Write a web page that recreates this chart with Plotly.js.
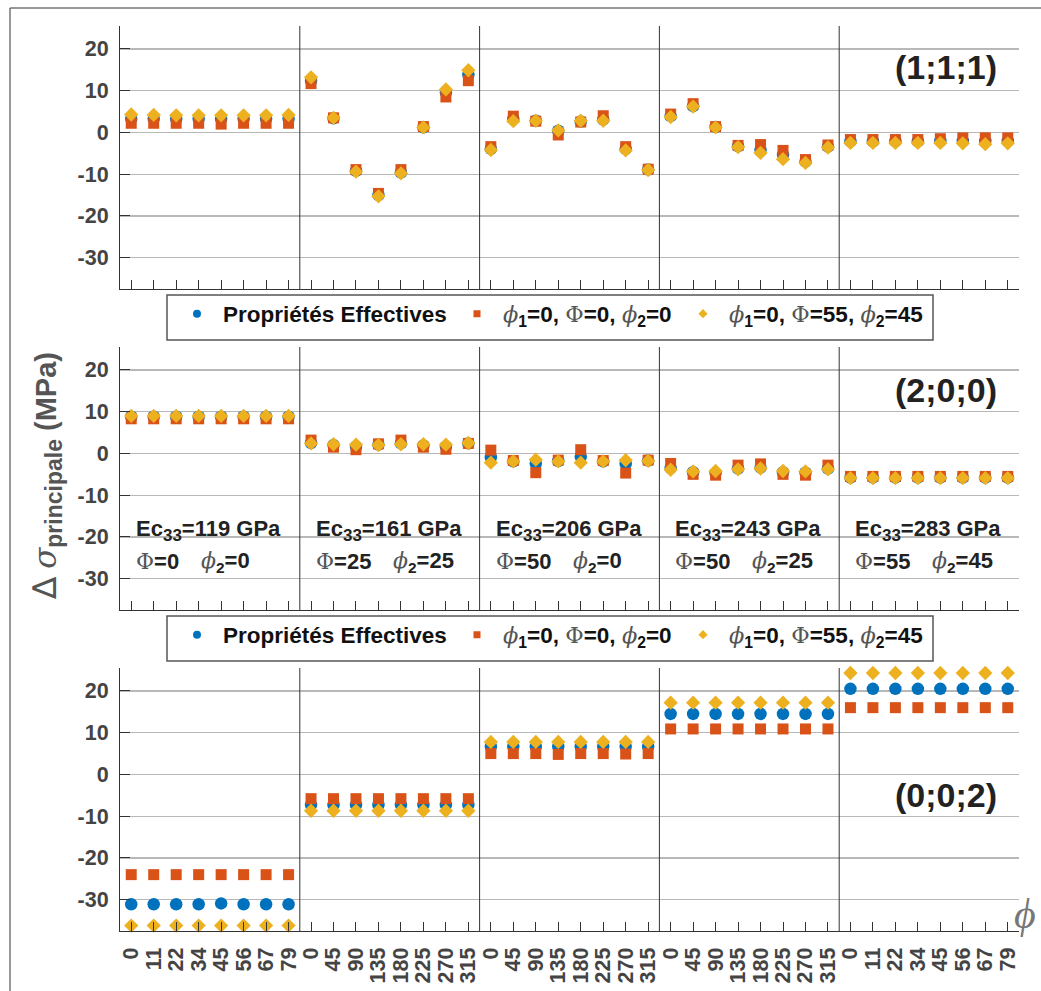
<!DOCTYPE html>
<html><head><meta charset="utf-8">
<script src="https://cdn.plot.ly/plotly-3.0.1.min.js"></script>
<style>body{margin:0;padding:0;background:#fff}</style>
</head><body><div id="chart" style="width:1041px;height:991px"></div>
<script>
// ---- positions & tick labels ----
const positions = [1,2,3,4,5,6,7,8,9,10,11,12,13,14,15,16,17,18,19,20,21,22,23,24,25,26,27,28,29,30,31,32,33,34,35,36,37,38,39,40];
const phiTicksA = ['0','11','22','34','45','56','67','79'];
const phiTicksB = ['0','45','90','135','180','225','270','315'];
const phiTickLabels = [...phiTicksA, ...phiTicksB, ...phiTicksB, ...phiTicksB, ...phiTicksA];
const yTickVals = [-30,-20,-10,0,10,20];
const yTickText = ['-30','-20','-10','0','10','20'];
const segmentBounds = [8.5, 16.5, 24.5, 32.5];
const segmentStarts = [0.5, 8.5, 16.5, 24.5, 32.5];

// ---- legend labels ----
const serifI = "font-family:'DejaVu Serif','Liberation Serif';font-style:italic;font-weight:normal;color:#555";
const serifN = "font-family:'DejaVu Serif','Liberation Serif';font-weight:normal;color:#555";
const seriesNames = [
  'Propriétés Effectives',
  `<span style="${serifI}">ϕ</span><sub>1</sub>=0, <span style="${serifN}">Φ</span>=0, <span style="${serifI}">ϕ</span><sub>2</sub>=0`,
  `<span style="${serifI}">ϕ</span><sub>1</sub>=0, <span style="${serifN}">Φ</span>=55, <span style="${serifI}">ϕ</span><sub>2</sub>=45`
];

// ---- panel (1;1;1) ----
const eff111 = [3.3,3.3,3.2,3.2,3.2,3.3,3.3,3.3, 12.3,3.4,-9.2,-15.0,-9.6,1.2,9.6,13.8, -3.9,3.3,2.8,0.4,2.6,3.1,-3.9,-8.9, 3.9,6.3,1.3,-3.3,-4.1,-5.3,-7.0,-3.4, -2.1,-2.1,-2.1,-2.1,-2.0,-2.0,-2.0,-2.0];
const red111 = [2.2,2.2,2.2,2.2,2.0,2.2,2.2,2.2, 11.7,3.5,-8.9,-14.6,-8.9,1.4,8.5,12.4, -3.4,3.9,2.7,-0.6,2.5,4.0,-3.4,-8.8, 4.4,6.9,1.4,-3.1,-2.9,-4.3,-6.5,-3.0, -1.7,-1.7,-1.7,-1.7,-1.5,-1.3,-1.3,-1.3];
const yel111 = [4.3,4.2,4.1,4.1,4.1,4.1,4.1,4.2, 13.2,3.5,-9.4,-15.3,-9.8,1.2,10.3,14.9, -4.2,2.7,2.8,0.5,2.8,2.8,-4.3,-9.0, 3.7,6.2,1.2,-3.5,-4.9,-6.4,-7.3,-3.6, -2.5,-2.5,-2.5,-2.5,-2.5,-2.6,-2.8,-2.6];

// ---- panel (2;0;0) ----
const eff200 = [8.8,8.8,8.8,8.8,8.8,8.8,8.8,8.8, 2.5,2.0,1.6,2.1,2.4,1.9,1.6,2.4, -0.9,-1.9,-2.4,-1.8,-0.8,-1.9,-2.5,-1.7, -3.5,-4.5,-4.7,-3.6,-3.4,-4.5,-4.6,-3.6, -5.8,-5.8,-5.8,-5.8,-5.8,-5.8,-5.8,-5.8];
const red200 = [8.3,8.3,8.3,8.3,8.3,8.3,8.3,8.3, 3.2,1.5,0.9,2.3,3.2,1.5,1.0,2.4, 0.8,-1.7,-4.6,-1.6,0.9,-1.7,-4.7,-1.6, -2.4,-5.0,-5.2,-2.8,-2.5,-5.0,-5.2,-2.8, -5.5,-5.5,-5.5,-5.5,-5.5,-5.5,-5.5,-5.5];
const yel200 = [9.0,9.0,9.0,9.0,9.0,9.0,9.0,9.0, 2.4,2.2,2.1,2.0,2.2,2.2,2.1,2.5, -2.2,-1.9,-1.5,-1.9,-2.2,-1.9,-1.6,-1.8, -3.9,-4.3,-4.2,-3.8,-3.6,-4.2,-4.3,-3.8, -5.9,-5.9,-5.9,-5.9,-5.9,-5.9,-5.9,-5.9];

// ---- panel (0;0;2) ----
const eff002 = [-31.1,-31.1,-31.1,-31.1,-30.9,-31.1,-31.1,-31.1, -7.3,-7.3,-7.3,-7.3,-7.3,-7.3,-7.3,-7.3, 6.7,6.7,6.7,6.7,6.7,6.7,6.7,6.7, 14.5,14.5,14.5,14.5,14.5,14.5,14.5,14.5, 20.5,20.5,20.5,20.5,20.5,20.5,20.5,20.5];
const red002 = [-24.0,-24.0,-24.0,-24.0,-24.0,-24.0,-24.0,-24.0, -5.8,-5.8,-5.8,-5.8,-5.8,-5.8,-5.8,-5.8, 5.0,5.0,5.0,4.8,5.0,5.0,4.9,5.0, 10.9,10.9,10.9,10.9,10.9,10.9,10.9,10.9, 16.0,16.0,16.0,16.0,16.0,16.0,16.0,16.0];
const yel002 = [-36.2,-36.2,-36.2,-36.2,-36.2,-36.2,-36.2,-36.2, -8.7,-8.7,-8.7,-8.7,-8.7,-8.7,-8.7,-8.7, 7.8,7.8,7.8,7.8,7.8,7.8,7.8,7.8, 17.2,17.2,17.2,17.2,17.2,17.2,17.2,17.2, 24.3,24.3,24.3,24.3,24.3,24.3,24.3,24.3];

// ---- panel & segment labels ----
const panelLabels = ['(1;1;1)', '(2;0;0)', '(0;0;2)'];
const ec33 = ['119','161','206','243','283'];
const bigPhi = ['0','25','50','50','55'];
const phi2 = ['0','25','0','25','45'];

// ---- styles ----
const C_BLUE = '#0072BD', C_RED = '#D95319', C_YEL = '#EDB120';
const FONT = "'Liberation Sans', Arial, Helvetica, sans-serif";
const W = 1041, H = 991;
const px = v => v / W, py = v => 1 - v / H;

const panels = [
  {eff: eff111, red: red111, yel: yel111, top: 26, bot: 289, label: 67},
  {eff: eff200, red: red200, yel: yel200, top: 347, bot: 610, label: 390},
  {eff: eff002, red: red002, yel: yel002, top: 668, bot: 931, label: 795}
];

const traces = [];
const layout = {
  width: W, height: H,
  margin: {l:0, r:0, t:0, b:0, pad:0},
  paper_bgcolor: '#fff', plot_bgcolor: 'rgba(0,0,0,0)',
  font: {family: FONT, size: 22, color: '#222', weight: 'bold'},
  showlegend: true,
  shapes: [], annotations: []
};

panels.forEach((p, i) => {
  const k = i === 0 ? '' : String(i + 1);
  const xa = 'x' + k, ya = 'y' + k;
  [[p.eff, C_BLUE, 'circle', 12.5], [p.red, C_RED, 'square', 11], [p.yel, C_YEL, 'diamond', 11]].forEach(([vals, col, sym, sz]) => {
    traces.push({type: 'scatter', mode: 'markers', x: positions, y: vals, xaxis: xa, yaxis: ya,
      marker: {color: col, symbol: sym, size: sz, line: {width: 0}}, showlegend: false, cliponaxis: false, hoverinfo: 'skip'});
  });
  layout['xaxis' + k] = {
    domain: [px(120), px(1019)], anchor: ya, range: [0.5, 40.5],
    showgrid: false, zeroline: false, showline: true, linecolor: '#333', linewidth: 1,
    ticks: 'inside', ticklen: 9, tickwidth: 1, tickcolor: '#333',
    tickmode: 'array', tickvals: positions, ticktext: phiTickLabels,
    showticklabels: i === 2, tickangle: -90, ticklabelstandoff: 7,
    tickfont: {family: FONT, size: 21.5, color: '#444', weight: 'bold'}
  };
  layout['yaxis' + k] = {
    domain: [py(p.bot), py(p.top)], anchor: xa, range: [-37.5, 25.5],
    showgrid: true, gridcolor: '#b8b8b8', gridwidth: 1.3, zeroline: false,
    showline: true, linecolor: '#333', linewidth: 1,
    ticks: 'inside', ticklen: 10, tickwidth: 1, tickcolor: '#333',
    tickmode: 'array', tickvals: yTickVals, ticktext: yTickText, ticklabelstandoff: 6,
    tickfont: {family: FONT, size: 21.5, color: '#444', weight: 'bold'}
  };
  segmentBounds.forEach(b => {
    layout.shapes.push({type: 'line', xref: xa, yref: ya + ' domain', x0: b, x1: b, y0: 0, y1: 1,
      line: {color: '#333', width: 1}});
  });
  layout.annotations.push({xref: 'paper', yref: 'paper', x: px(946), y: py(p.label),
    text: panelLabels[i], showarrow: false, xanchor: 'center', yanchor: 'middle',
    font: {family: FONT, size: 34, color: '#222', weight: 'bold'}});
});

// segment labels in panel 2
segmentStarts.forEach((s, j) => {
  layout.annotations.push({xref: 'x2', yref: 'y2', x: s, y: -18.5, xshift: 14, xanchor: 'left', yanchor: 'middle',
    text: `Ec<sub><span style="font-size:17px">33</span></sub>=${ec33[j]} GPa`, showarrow: false, font: {family: FONT, size: 22, color: '#222', weight: 'bold'}});
  layout.annotations.push({xref: 'x2', yref: 'y2', x: s, y: -25.9, xshift: 14, xanchor: 'left', yanchor: 'middle',
    text: `<span style="${serifN}">Φ</span>=${bigPhi[j]}`, showarrow: false, font: {family: FONT, size: 22, color: '#222', weight: 'bold'}});
  layout.annotations.push({xref: 'x2', yref: 'y2', x: s, y: -25.9, xshift: j === 0 ? 79 : 91, xanchor: 'left', yanchor: 'middle',
    text: `<span style="${serifI}">ϕ</span><sub>2</sub>=${phi2[j]}`, showarrow: false, font: {family: FONT, size: 22, color: '#222', weight: 'bold'}});
});

// y-axis title
layout.annotations.push({xref: 'paper', yref: 'paper', x: px(46), y: py(476), textangle: -90, showarrow: false,
  xanchor: 'center', yanchor: 'middle',
  text: `<span style="font-family:'DejaVu Sans';font-weight:normal;font-size:33px">∆</span> <span style="${serifI};font-size:31px">σ</span><sub><span style="font-size:23px">principale</span></sub> (MPa)`,
  font: {family: FONT, size: 29, color: '#555', weight: 'bold'}});

// axis symbol bottom right
layout.annotations.push({xref: 'paper', yref: 'paper', x: px(1012), y: py(914), showarrow: false, xanchor: 'left', yanchor: 'middle',
  text: 'ϕ', font: {family: "'Liberation Serif','DejaVu Serif'", size: 42, color: '#777', style: 'italic', weight: 'normal'}});

// outer frame
layout.shapes.push({type: 'rect', xref: 'paper', yref: 'paper', x0: px(10), x1: 1.02, y0: -0.02, y1: py(8),
  line: {color: '#333', width: 1}, fillcolor: 'rgba(0,0,0,0)'});
// legend boxes
[[295, 340], [616, 661]].forEach(([t, b]) => {
  layout.shapes.push({type: 'rect', xref: 'paper', yref: 'paper', x0: px(167), x1: px(933), y0: py(b), y1: py(t),
    line: {color: '#555', width: 1.5}, fillcolor: '#fff'});
});

// legend entries: one legend per entry for exact placement
const legendMarkers = [[C_BLUE, 'circle', 8], [C_RED, 'square', 7], [C_YEL, 'diamond', 7]];
const legendEntryX = [171, 451, 677];
const legendBoxCenters = [314, 635];
let lgIdx = 1;
legendBoxCenters.forEach(cy => {
  legendMarkers.forEach(([col, sym, sz], j) => {
    const name = lgIdx === 1 ? 'legend' : 'legend' + lgIdx;
    traces.push({type: 'scatter', mode: 'markers', x: [null], y: [null], xaxis: 'x', yaxis: 'y', legend: name,
      name: seriesNames[j], marker: {color: col, symbol: sym, size: sz}, showlegend: true, hoverinfo: 'skip'});
    layout[name] = {orientation: 'h', xanchor: 'left', yanchor: 'middle', bgcolor: 'rgba(0,0,0,0)', borderwidth: 0,
      itemwidth: 42, x: px(legendEntryX[j]), y: py(cy),
      font: {family: FONT, size: 22.5, color: '#111', weight: 'bold'}};
    lgIdx++;
  });
});

Plotly.newPlot('chart', traces, layout, {staticPlot: true, displayModeBar: false});
</script></body></html>
